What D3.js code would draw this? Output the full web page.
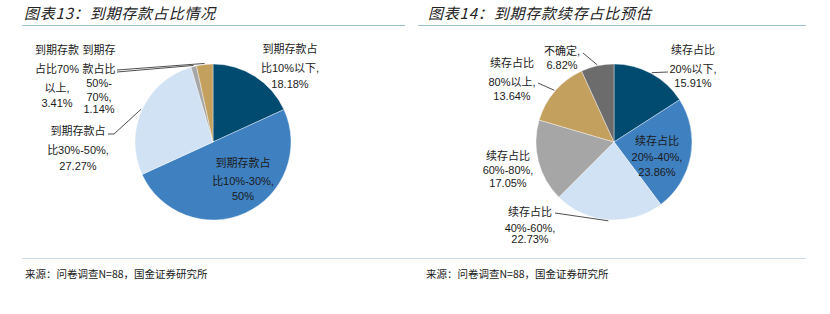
<!DOCTYPE html>
<html>
<head>
<meta charset="utf-8">
<script src="https://cdn.jsdelivr.net/npm/d3@7"></script>
<style>
  body { margin: 0; background: #fff; }
  svg text { font-family: "Liberation Sans", "Noto Sans CJK SC", sans-serif; fill: #1a1a1a; }
  .title { font-family: "Noto Sans CJK SC", sans-serif; font-style: italic; font-size: 15px; letter-spacing: 0.8px; fill: #222; }
  .source { font-family: "Noto Sans CJK SC", sans-serif; font-size: 10.5px; }
  .lbl { font-size: 11px; }
</style>
</head>
<body>
<div class="charts"></div>
<script>
// Chart titles and source note
const titles = ["图表13：到期存款占比情况", "图表14：到期存款续存占比预估"];
const sourceNote = "来源：问卷调查N=88，国金证券研究所";

// Left pie: maturing deposit share (clockwise from 12 o'clock)
const leftCategories = ["10%以下", "10%-30%", "30%-50%", "50%-70%", "70%以上"];
const leftValues = [18.18, 50, 27.27, 1.14, 3.41];
const leftLabels = [
  ["到期存款占", "比10%以下,", "18.18%"],
  ["到期存款占", "比10%-30%,", "50%"],
  ["到期存款占", "比30%-50%,", "27.27%"],
  ["到期存", "款占比", "50%-", "70%,", "1.14%"],
  ["到期存款", "占比70%", "以上,", "3.41%"]
];

// Right pie: expected renewal share
const rightCategories = ["20%以下", "20%-40%", "40%-60%", "60%-80%", "80%以上", "不确定"];
const rightValues = [15.91, 23.86, 22.73, 17.05, 13.64, 6.82];
const rightLabels = [
  ["续存占比", "20%以下,", "15.91%"],
  ["续存占比", "20%-40%,", "23.86%"],
  ["续存占比", "40%-60%,", "22.73%"],
  ["续存占比", "60%-80%,", "17.05%"],
  ["续存占比", "80%以上,", "13.64%"],
  ["不确定,", "6.82%"]
];

const leftColors = ["#014a70", "#3f80c0", "#d0e2f3", "#a6a6a6", "#c3a05e"];
const rightColors = ["#014a70", "#3f80c0", "#d0e2f3", "#a6a6a6", "#c3a05e", "#6c6c6c"];

// Label layout: offsets (dx, dy) of label block from pie centre, line heights,
// and optional leader line (from label point to angle on the rim)
const leftLayout = [
  {dx: 77, ys: [-93, -74, -58]},
  {dx: 30, ys: [21, 39, 54]},
  {dx: -135, ys: [-11, 8, 24], leader: {x: -105, y: -8, gap: 6}},
  {dx: -114, ys: [-92, -73, -59, -45, -33], leader: {x: -96, y: -70, gap: 0}},
  {dx: -156, ys: [-92, -73, -54, -39], leader: {x: -96, y: -72, gap: 0}}
];
const rightLayout = [
  {dx: 79, ys: [-92, -73, -59], leader: {x: 54, y: -70, gap: 0}},
  {dx: 43, ys: [-1, 15, 30]},
  {dx: -84, ys: [70, 86, 97], leader: {x: -59, y: 71, gap: 0}},
  {dx: -106, ys: [14, 28, 41]},
  {dx: -102, ys: [-79, -60, -46], leader: {x: -76, y: -59, gap: 0}},
  {dx: -52, ys: [-91, -77], leader: {x: -31, y: -89, gap: 0}}
];

const width = 830;
const height = 314;
const radius = 78;

const svg = d3.select(".charts")
  .append("svg")
    .attr("width", width)
    .attr("height", height);

// Titles with underline
[{x: 24, x0: 22, x1: 405}, {x: 428, x1: 806, x0: 418}].forEach((t, i) => {
  svg.append("text")
    .attr("class", "title")
    .attr("x", t.x)
    .attr("y", 19)
    .text(titles[i]);
  svg.append("line")
    .attr("x1", t.x0).attr("x2", t.x1)
    .attr("y1", 25.5).attr("y2", 25.5)
    .attr("stroke", "#9dbfcf")
    .attr("stroke-width", 1);
});

// Bottom rule and sources
svg.append("line")
  .attr("x1", 22).attr("x2", 806)
  .attr("y1", 258.5).attr("y2", 258.5)
  .attr("stroke", "#c9d9e6")
  .attr("stroke-width", 1.2);
[25, 426].forEach(x => {
  svg.append("text")
    .attr("class", "source")
    .attr("x", x)
    .attr("y", 278)
    .text(sourceNote);
});

drawPie({cx: 213, cy: 142}, leftValues, leftColors, leftLabels, leftLayout);
drawPie({cx: 614, cy: 142}, rightValues, rightColors, rightLabels, rightLayout);

function drawPie(center, values, colors, labels, layout) {
  const g = svg.append("g")
    .attr("transform", `translate(${center.cx}, ${center.cy})`);

  const pie = d3.pie().sort(null).value(d => d);
  const arcs = pie(values);
  const arc = d3.arc().innerRadius(0).outerRadius(radius);

  g.selectAll("path")
    .data(arcs)
    .enter()
    .append("path")
      .attr("d", arc)
      .attr("fill", (d, i) => colors[i])
      .attr("stroke", "#fff")
      .attr("stroke-width", 0.4);

  arcs.forEach((d, i) => {
    const lay = layout[i];
    const txt = g.append("text")
      .attr("class", "lbl")
      .attr("text-anchor", "middle");
    labels[i].forEach((line, j) => {
      txt.append("tspan")
        .attr("x", lay.dx)
        .attr("y", lay.ys[j] + 4)
        .text(line);
    });

    if (lay.leader) {
      // Leader goes to the rim point at the slice middle angle
      const a = (d.startAngle + d.endAngle) / 2;
      const rx = Math.sin(a) * (radius + 1);
      const ry = -Math.cos(a) * (radius + 1);
      const pts = [[lay.leader.x, lay.leader.y]];
      if (lay.leader.gap) pts.push([lay.leader.x + lay.leader.gap, lay.leader.y]);
      pts.push([rx, ry]);
      g.append("path")
        .attr("d", d3.line()(pts))
        .attr("fill", "none")
        .attr("stroke", "#222")
        .attr("stroke-width", 0.8);
    }
  });
}
</script>
</body>
</html>
